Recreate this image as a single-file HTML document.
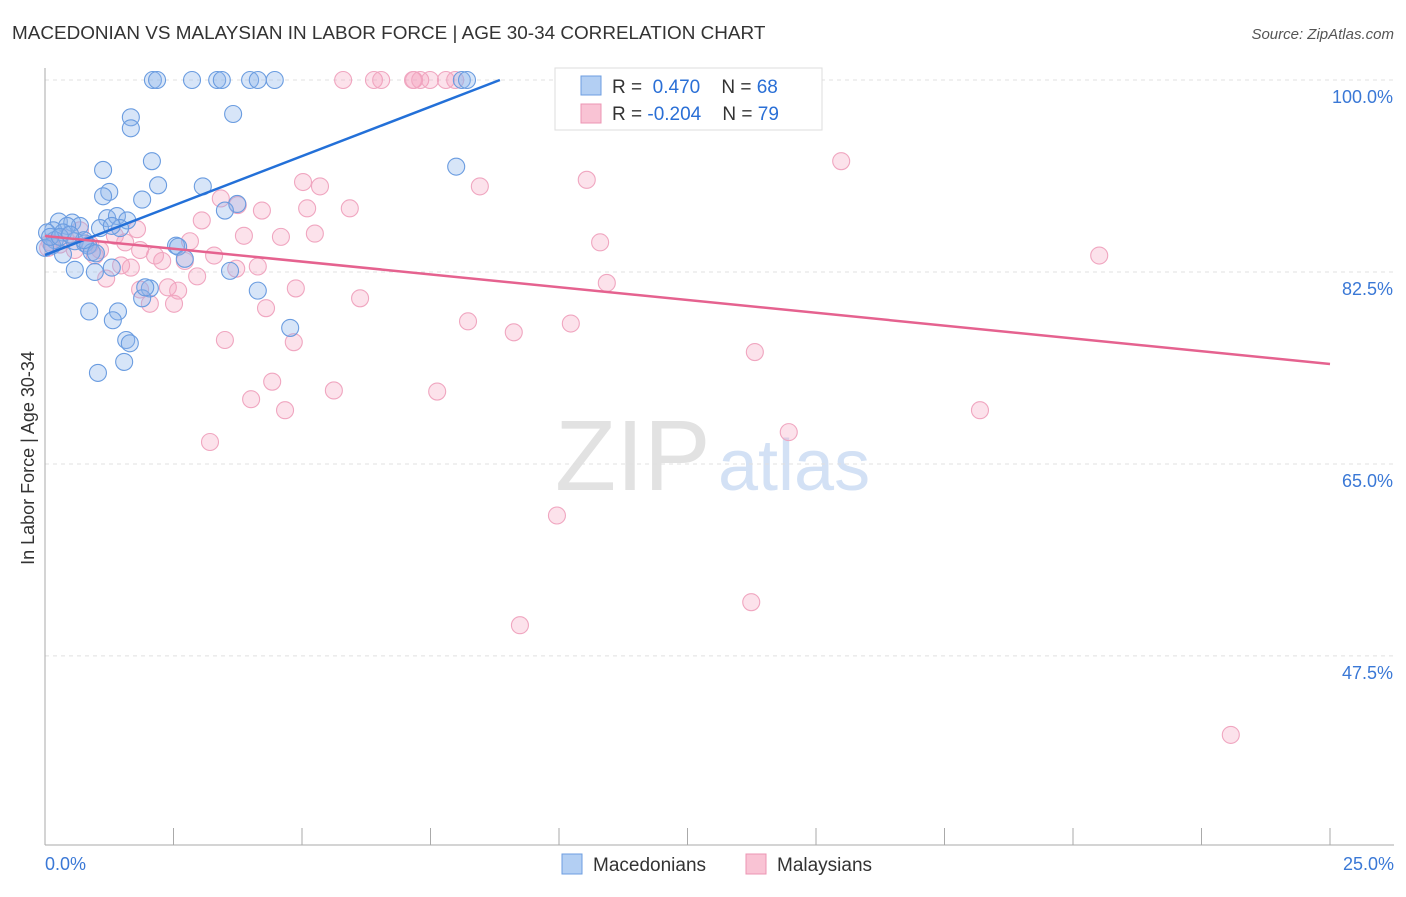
<!DOCTYPE html>
<html><head><meta charset="utf-8"><style>
body{margin:0;background:#fff;font-family:"Liberation Sans",sans-serif}
svg text{font-family:"Liberation Sans",sans-serif}
</style></head><body>
<svg id="chart" width="1406" height="892">
<text x="12" y="39" font-size="18.9" fill="#333">MACEDONIAN VS MALAYSIAN IN LABOR FORCE | AGE 30-34 CORRELATION CHART</text>
<text x="1394" y="39" font-size="15" fill="#555" text-anchor="end" font-style="italic">Source: ZipAtlas.com</text>
<text x="34" y="458" font-size="18" fill="#333" text-anchor="middle" transform="rotate(-90 34 458)">In Labor Force | Age 30-34</text>
<text x="555" y="490" font-size="100" fill="#e2e2e2" font-family="Liberation Serif">ZIP</text>
<text x="718" y="490" font-size="72" fill="#d3e1f5">atlas</text>
<g id="grid"></g><g id="pts"></g><g id="lines"></g>
<g>
<rect x="555" y="68" width="267" height="62" fill="#fff" stroke="#ddd"/>
<rect x="581" y="76" width="20" height="19" fill="#b3cff3" stroke="#6d9ee0"/>
<rect x="581" y="104" width="20" height="19" fill="#f9c3d4" stroke="#ec95b3"/>
<text x="612" y="93" font-size="19" fill="#333">R = <tspan fill="#2a6fd6">&#160;0.470</tspan>&#160;&#160;&#160; N = <tspan fill="#2a6fd6">68</tspan></text>
<text x="612" y="120" font-size="19" fill="#333">R = <tspan fill="#2a6fd6">-0.204</tspan>&#160;&#160;&#160; N = <tspan fill="#2a6fd6">79</tspan></text>
</g>
<g>
<rect x="562" y="854" width="20" height="20" fill="#b3cff3" stroke="#6d9ee0"/>
<text x="593" y="871" font-size="19" fill="#333">Macedonians</text>
<rect x="746" y="854" width="20" height="20" fill="#f9c3d4" stroke="#ec95b3"/>
<text x="777" y="871" font-size="19" fill="#333">Malaysians</text>
</g>
</svg>
<script>
const yTicks=[100,82.5,65,47.5];
const xTickLabels=["0.0%","25.0%"];
const blueX=[2.10,2.18,2.86,3.35,3.44,3.99,4.14,4.47,8.11,8.21,1.67,3.66,1.67,2.08,1.13,8.00,2.20,3.07,1.25,1.13,1.89,3.74,3.50,1.21,1.40,1.60,0.27,0.53,0.68,0.43,1.46,0.16,0.04,0.35,1.07,0.19,0.58,0.78,0.84,0.14,2.55,2.59,0.91,0.35,2.72,1.30,0.58,0.97,3.60,2.04,4.14,1.89,0.86,1.42,1.32,4.77,1.58,1.65,1.54,1.03,0,0.10,0.29,0.99,0.76,0.49,1.30,1.95];
const blueY=[100,100,100,100,100,100,100,100,100,100,96.6,96.9,95.6,92.6,91.8,92.1,90.4,90.3,89.8,89.4,89.1,88.7,88.1,87.4,87.6,87.2,87.1,87.0,86.7,86.7,86.5,86.3,86.1,86.1,86.5,85.4,85.3,85.1,84.9,84.9,84.9,84.8,84.3,84.1,83.7,82.9,82.7,82.5,82.6,81.0,80.8,80.1,78.9,78.9,78.1,77.4,76.3,76.0,74.3,73.3,84.7,85.7,85.7,84.2,85.4,85.9,86.7,81.1];
const pinkX=[5.80,6.40,6.54,7.16,7.18,7.30,7.49,7.80,7.98,10.35,11.50,14.09,15.49,10.54,5.02,8.46,5.35,3.42,3.75,5.10,5.93,4.22,3.05,1.79,1.36,5.25,3.87,4.59,2.82,10.80,20.51,0.88,0.10,0.29,0.58,0.97,3.29,2.28,2.72,1.48,1.67,4.14,3.72,1.19,2.96,10.93,4.88,2.39,1.85,2.59,2.04,2.51,6.13,4.30,8.23,10.23,9.12,3.50,4.84,13.81,4.42,5.62,7.63,4.01,4.67,18.19,14.47,3.21,9.96,13.74,9.24,23.07,0.06,0.39,1.07,1.56,2.14,0.68,1.85];
const pinkY=[100,100,100,100,100,100,100,100,100,100,100,100,92.6,90.9,90.7,90.3,90.3,89.2,88.6,88.3,88.3,88.1,87.2,86.4,85.8,86.0,85.8,85.7,85.3,85.2,84.0,85.0,85.2,85.0,84.5,84.0,84.0,83.5,83.5,83.1,82.9,83.0,82.8,81.9,82.1,81.5,81.0,81.1,80.9,80.8,79.6,79.6,80.1,79.2,78.0,77.8,77.0,76.3,76.1,75.2,72.5,71.7,71.6,70.9,69.9,69.9,67.9,67.0,60.3,52.4,50.3,40.3,84.7,85.6,84.5,85.2,84.0,86.3,84.5];
const blueTrend=[[0,84.05],[8.85,100]];
const pinkTrend=[[0,85.78],[25,74.11]];
const NS="http://www.w3.org/2000/svg";
const X0=45,X1=1330,Y100=80,PXPCT=10.97;
const sx=v=>X0+(X1-X0)*v/25;
const sy=v=>Y100+(100-v)*PXPCT;
function mk(tag,attrs,parent){const e=document.createElementNS(NS,tag);for(const k in attrs)e.setAttribute(k,attrs[k]);parent.appendChild(e);return e;}
const grid=document.getElementById('grid');
yTicks.forEach(t=>{
 const l=mk('line',{x1:X0,x2:1394,y1:sy(t),y2:sy(t),stroke:'#e0e0e0','stroke-dasharray':'4 4'},grid);
 
 
 const tx=mk('text',{x:1393,y:sy(t)+23,'font-size':18,fill:'#3a78d6','text-anchor':'end'},grid);
 tx.textContent=t.toFixed(1)+'%';
 
 
});
const ax=mk('line',{x1:X0,x2:X0,y1:68,y2:845,stroke:'#aaa'},grid);


const bx=mk('line',{x1:X0,x2:1394,y1:845,y2:845,stroke:'#aaa'},grid);


for(let i=0;i<=10;i++){const t=mk('line',{x1:sx(i*2.5),x2:sx(i*2.5),y1:828,y2:845,stroke:'#aaa'},grid);
 
 }
[[0,'start',45],[25,'end',1394]].forEach((d,i)=>{const t=mk('text',{x:d[2],y:870,'font-size':18,fill:'#3a78d6','text-anchor':d[1]},grid);t.textContent=xTickLabels[i];
 
 });
const pts=document.getElementById('pts');
pinkX.forEach((x,i)=>{const c=mk('circle',{cx:sx(x),cy:sy(pinkY[i]),r:8.5,fill:'rgba(244,160,188,0.3)',stroke:'#f0a6c0','stroke-width':1.1},pts);
 
 });
blueX.forEach((x,i)=>{const c=mk('circle',{cx:sx(x),cy:sy(blueY[i]),r:8.5,fill:'rgba(140,180,236,0.35)',stroke:'#6a9ce0','stroke-width':1.1},pts);
 
 });
const lines=document.getElementById('lines');
const bl=mk('line',{x1:sx(blueTrend[0][0]),y1:sy(blueTrend[0][1]),x2:sx(blueTrend[1][0]),y2:sy(blueTrend[1][1]),stroke:'#2370d8','stroke-width':2.5},lines);


const pl=mk('line',{x1:sx(pinkTrend[0][0]),y1:sy(pinkTrend[0][1]),x2:sx(pinkTrend[1][0]),y2:sy(pinkTrend[1][1]),stroke:'#e5628f','stroke-width':2.5},lines);


</script>
</body></html>
